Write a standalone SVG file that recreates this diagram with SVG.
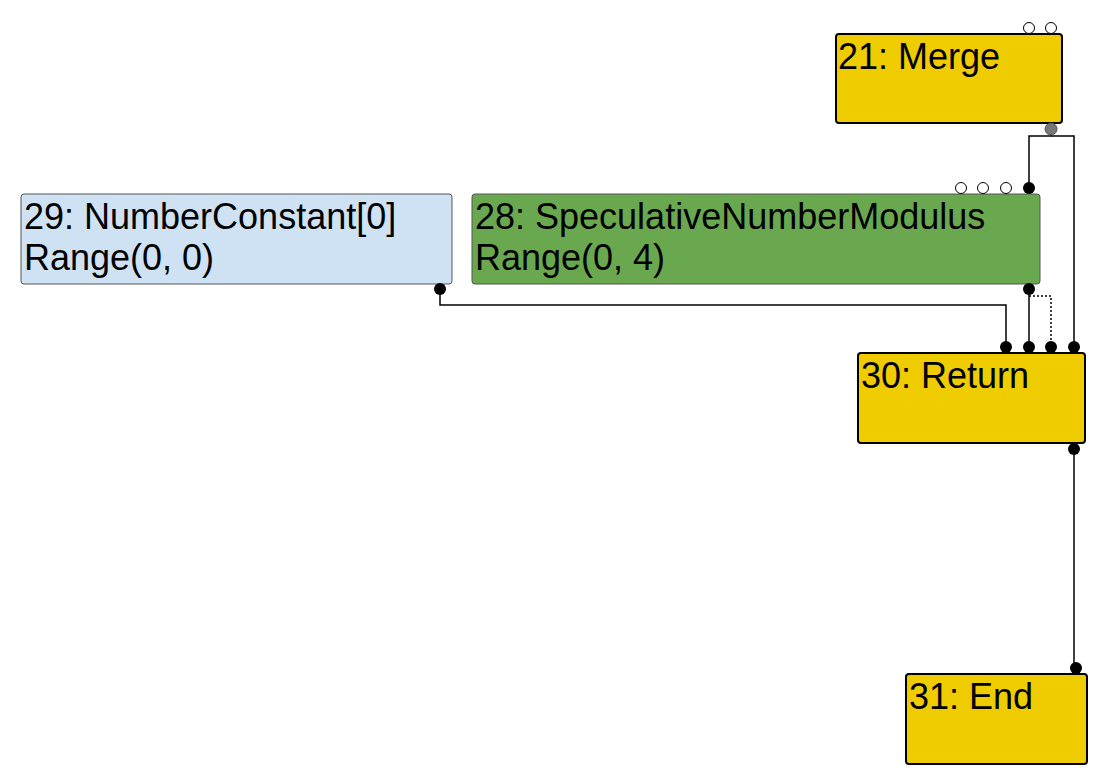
<svg xmlns="http://www.w3.org/2000/svg" width="1118" height="781" viewBox="0 0 1118 781">
<style>
.node rect{rx:3px;ry:3px}
.ctrl{fill:#eecc00;stroke:#000;stroke-width:2}
.val{stroke:#555;stroke-width:1}
.lbl{font-family:"Liberation Sans",Arial,sans-serif;font-size:36px;fill:#000}
.in{fill:#fff;stroke:#000;stroke-width:1}
.dot{fill:#000}
.edge{fill:none;stroke:#000;stroke-width:1.5}
.dotted{stroke-dasharray:2,2}
</style>
<rect width="1118" height="781" fill="#fff"/>
<g id="connectors">
<path class="edge" d="M1051,129 V136 H1029 V188"/>
<path class="edge" d="M1051,136 H1074 V347"/>
<path class="edge" d="M1029,289 V347"/>
<path class="edge dotted" d="M1029,296 H1051 V347"/>
<path class="edge" d="M440,289 V305 H1006 V347"/>
<path class="edge" d="M1074,449 V668"/>
</g>
<g id="n21" class="node">
<rect class="ctrl" x="836" y="34" width="226" height="89"/>
<text class="lbl" x="838" y="69">21: Merge</text>
<circle class="in" cx="1029" cy="28" r="5.5"/>
<circle class="in" cx="1051" cy="28" r="5.5"/>
<circle cx="1051" cy="129" r="6" fill="#777" stroke="#555" stroke-width="1"/>
</g>
<g id="n29" class="node">
<rect class="val" x="21" y="194" width="431" height="90" fill="#cfe2f3"/>
<text class="lbl" x="24" y="229">29: NumberConstant[0]</text>
<text class="lbl" x="24" y="270">Range(0, 0)</text>
<circle class="dot" cx="440" cy="289" r="6"/>
</g>
<g id="n28" class="node">
<rect class="val" x="472" y="194" width="568" height="90" fill="#6aa84f"/>
<text class="lbl" x="475" y="229">28: SpeculativeNumberModulus</text>
<text class="lbl" x="475" y="270">Range(0, 4)</text>
<circle class="in" cx="961" cy="188" r="5.5"/>
<circle class="in" cx="983" cy="188" r="5.5"/>
<circle class="in" cx="1006" cy="188" r="5.5"/>
<circle class="dot" cx="1029" cy="188" r="6"/>
<circle class="dot" cx="1029" cy="289" r="6"/>
</g>
<g id="n30" class="node">
<rect class="ctrl" x="858" y="353" width="227" height="90"/>
<text class="lbl" x="861" y="388">30: Return</text>
<circle class="dot" cx="1006" cy="347" r="6"/>
<circle class="dot" cx="1029" cy="347" r="6"/>
<circle class="dot" cx="1051" cy="347" r="6"/>
<circle class="dot" cx="1074" cy="347" r="6"/>
<circle class="dot" cx="1074" cy="449" r="6"/>
</g>
<g id="n31" class="node">
<rect class="ctrl" x="906" y="674" width="181" height="90"/>
<text class="lbl" x="909" y="709">31: End</text>
<circle class="dot" cx="1076" cy="668" r="6"/>
</g>
</svg>
